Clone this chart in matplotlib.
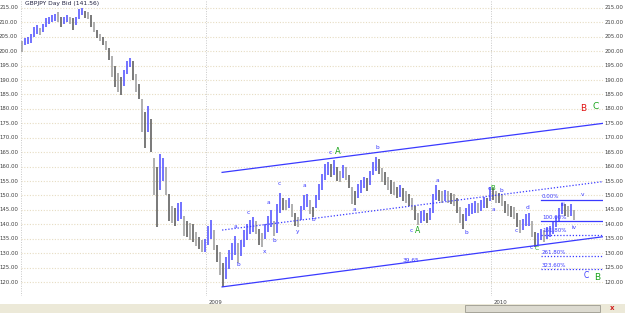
import matplotlib
matplotlib.use("Agg")
import matplotlib.pyplot as plt
import numpy as np
from matplotlib.patches import Rectangle

# ---------------- data ----------------
title = "GBPJPY Day Bid (141.56)"

bar_high = [203.5, 204.5, 205.0, 206.0, 208.5, 209.0, 208.0, 209.5, 211.5, 212.0,
            212.5, 213.0, 213.5, 212.0, 212.0, 212.5, 212.0, 211.5, 212.0, 214.5,
            215.0, 214.0, 213.5, 212.5, 210.0, 207.5, 206.0, 205.0, 203.5, 201.0,
            198.5, 195.0, 192.5, 191.0, 193.5, 196.5, 197.5, 196.5, 192.0, 188.5,
            183.5, 179.0, 181.0, 176.5, 163.0, 160.0, 164.5, 163.0, 160.0, 150.5,
            146.5, 145.5, 147.5, 147.7, 143.0, 141.0, 140.5, 140.0, 137.5, 135.5,
            134.5, 135.0, 139.5, 141.5, 138.0, 133.0, 130.5, 126.5, 128.5, 131.0,
            133.5, 136.0, 133.5, 134.5, 138.0, 140.0, 141.5, 142.5, 141.0, 138.5,
            137.0, 140.0, 143.0, 145.0, 141.0, 147.0, 151.0, 149.0, 148.5, 149.0,
            147.0, 144.0, 142.5, 146.5, 150.0, 150.5, 148.5, 146.0, 150.0, 154.0,
            157.5, 161.0, 161.5, 161.0, 162.3, 160.0, 158.5, 160.5, 160.0, 157.0,
            153.0, 151.5, 154.0, 155.5, 156.5, 156.0, 158.5, 161.5, 163.3, 162.5,
            159.5, 158.0, 156.5, 155.5, 154.5, 153.0, 153.5, 152.5, 151.5, 150.5,
            149.0, 146.5, 144.0, 144.5, 145.0, 144.0, 145.5, 150.5, 153.6, 152.0,
            151.5, 152.0, 151.5, 151.0, 150.5, 149.0, 146.0, 143.5, 145.5, 147.0,
            147.5, 148.0, 147.5, 148.5, 149.5, 149.0, 153.0, 152.5, 151.5, 151.0,
            150.5, 148.0, 147.0, 146.5, 146.0, 144.0, 141.5, 142.0, 143.5, 143.9,
            141.0, 137.5, 137.0, 138.5, 138.0, 139.0, 139.5, 141.0, 143.0, 145.5,
            147.5, 147.0, 146.5, 147.0, 145.0]
bar_low = [199.8, 202.0, 202.5, 203.0, 205.0, 206.0, 205.5, 206.5, 208.5, 209.5,
           210.0, 210.5, 210.0, 208.5, 209.5, 210.0, 209.5, 207.5, 209.0, 211.0,
           212.5, 211.5, 211.0, 208.5, 206.5, 204.5, 203.5, 202.0, 200.5, 197.0,
           191.0, 187.5, 186.0, 184.8, 188.0, 192.0, 194.5, 190.0, 186.0, 183.5,
           172.0, 166.5, 172.0, 165.0, 150.0, 139.0, 152.0, 155.0, 150.0, 141.0,
           140.5, 139.5, 141.0, 142.0, 136.0, 135.5, 134.5, 134.0, 132.5, 131.5,
           130.5, 130.5, 133.0, 135.0, 131.0, 127.0, 122.5, 118.3, 121.0, 124.5,
           127.5, 129.5, 126.5, 129.0, 132.0, 134.5, 136.5, 137.5, 136.5, 133.0,
           132.0, 135.0, 137.5, 139.0, 136.0, 137.0, 144.0, 145.0, 145.0, 145.5,
           142.5, 139.5, 139.0, 141.5, 145.0, 146.0, 143.5, 142.5, 145.5, 148.5,
           152.0, 155.5, 157.0, 156.5, 157.0, 155.0, 154.5, 156.0, 155.5, 152.5,
           147.0, 146.7, 149.0, 151.0, 152.5, 151.5, 153.5, 157.0, 158.5, 157.5,
           154.5, 153.5, 152.0, 150.5, 150.0, 149.0, 149.5, 148.0, 147.5, 146.5,
           145.0, 141.5, 139.8, 140.5, 141.0, 140.5, 141.5, 144.0, 148.5, 148.0,
           147.5, 148.0, 147.5, 147.0, 146.5, 144.0, 140.5, 138.5, 141.0, 143.0,
           143.5, 144.0, 144.0, 144.5, 145.5, 145.5, 148.0, 148.5, 147.5, 147.5,
           146.5, 144.0, 143.0, 142.5, 142.0, 139.0, 137.0, 138.0, 139.5, 139.5,
           135.5, 132.1, 133.0, 134.5, 134.0, 135.0, 135.5, 136.5, 139.0, 141.0,
           143.5, 143.0, 142.5, 143.0, 141.5]

year_labels = ["2009", "2010"]
year_pos = [61.3, 156.3]          # bar index where each year starts

# channel lines: (bar index, price) end points
chan_upper = [(66.7, 158.0), (193.7, 175.0)]
chan_lower = [(66.7, 118.3), (193.7, 135.7)]
chan_mid = [(66.7, 138.0), (193.7, 154.8)]
chan_label = "39.65"

fib_zero, fib_hundred = 148.4, 141.0
fib_ratios = [0.0, 1.0, 1.618, 2.618, 3.236]
fib_names = ["0.00%", "100.00%", "161.80%", "261.80%", "323.60%"]
fib_start = 173.0

# wave labels: (text, bar index, price, colour, size)
wave_labels = [
    ("a", 71.0, 139.4, "b", 4.2), ("c", 75.4, 144.0, "b", 4.2), ("b", 72.1, 125.9, "b", 4.2),
    ("a", 82.1, 147.5, "b", 4.2), ("c", 85.7, 154.2, "b", 4.2), ("x", 80.7, 130.5, "b", 4.2),
    ("b", 84.1, 134.3, "b", 4.2), ("y", 91.9, 137.4, "b", 4.2), ("a", 94.1, 153.6, "b", 4.2),
    ("b", 97.1, 141.5, "b", 4.2), ("c", 102.9, 164.8, "b", 4.2), ("A", 105.2, 165.3, "g", 6.0),
    ("a", 110.8, 145.0, "b", 4.2), ("b", 118.4, 166.7, "b", 4.2), ("c", 129.7, 138.0, "b", 4.2),
    ("A", 131.9, 137.7, "g", 5.5), ("a", 138.6, 155.1, "b", 4.2), ("b", 148.0, 137.2, "b", 4.2),
    ("c", 155.7, 152.5, "b", 4.2), ("B", 156.9, 152.7, "g", 5.0), ("b", 159.9, 151.8, "b", 4.2),
    ("a", 157.1, 145.3, "b", 4.2), ("d", 168.4, 145.8, "b", 4.2), ("c", 164.7, 137.8, "b", 4.2),
    ("c", 169.9, 131.9, "b", 4.2), ("C", 171.6, 131.6, "g", 4.2), ("iii", 180.2, 147.0, "b", 4.2),
    ("iv", 184.1, 139.0, "b", 4.2), ("v", 186.9, 150.2, "b", 4.2), ("C", 188.2, 122.1, "b", 5.5),
    ("B", 191.7, 121.7, "g", 6.5), ("B", 187.0, 180.3, "r", 6.5), ("C", 191.3, 181.0, "g", 6.5),
]
colour_map = {"b": "#3a3aff", "g": "#17a317", "r": "#e01010"}

# ---------------- figure ----------------
W, H = 625, 313
fig = plt.figure(figsize=(W / 100, H / 100), dpi=100)
fig.patch.set_facecolor("white")

ax_left, ax_right, ax_top, ax_bot = 21, 603, 0, 296
ax = fig.add_axes([ax_left / W, 1 - ax_bot / H, (ax_right - ax_left) / W, (ax_bot - ax_top) / H])
ax.set_facecolor("white")
for s in ax.spines.values():
    s.set_visible(False)

n = len(bar_high)
xs = np.arange(n)
ylo, yhi = 115.15, 217.75
xlo, xhi = -1 / 3, 193.67
ax.set_xlim(xlo, xhi)
ax.set_ylim(ylo, yhi)
ax.set_xticks([])
ax.set_yticks([])

# grid
levels = np.arange(120, 216, 5)
for lv in levels:
    ax.axhline(lv, color="#e6dcc2", lw=0.8, ls=(0, (1, 1.5)), zorder=0)
for xv in [xlo + 0.05, xhi - 0.05]:
    ax.axvline(xv, color="#c8c8c8", lw=0.7, ls=(0, (1, 1.5)), zorder=0)
for yp in year_pos:
    ax.axvline(yp, color="#c8c8c8", lw=0.7, ls=(0, (1, 1.5)), zorder=0)

# bars
hi = np.array(bar_high)
lo = np.array(bar_low)
mid = (hi + lo) / 2
cols = []
for i in range(n):
    if i > 0 and mid[i] > mid[i - 1]:
        cols.append("#4b4bff")
    elif i % 2:
        cols.append("#555555")
    else:
        cols.append("#9a9a9a")
ax.vlines(xs, lo, hi, colors=cols, lw=1.1, zorder=3)

# channel lines
blue = "#3a3aff"
for seg, ls in [(chan_upper, "-"), (chan_lower, "-"), (chan_mid, (0, (1, 1.5)))]:
    ax.plot([seg[0][0], seg[1][0]], [seg[0][1], seg[1][1]], color=blue, lw=0.9, ls=ls, zorder=4)
ax.text(129.7, 127.6, chan_label, color=blue, fontsize=4.2, ha="center", va="center", zorder=5)

# fib levels
rng = fib_zero - fib_hundred
for r, name in zip(fib_ratios, fib_names):
    lv = fib_zero - r * rng
    ls = "-" if r in (0.0, 1.0) else (0, (1, 1.5))
    ax.plot([fib_start, xhi], [lv, lv], color=blue, lw=0.9, ls=ls, zorder=4)
    ax.text(fib_start + 0.3, lv + 0.4, name, color=blue, fontsize=4.0, ha="left", va="bottom", zorder=5)

# wave labels
for t, x, y, c, fs in wave_labels:
    ax.text(x, y, t, color=colour_map[c], fontsize=fs, ha="center", va="center", zorder=6)

# title
ax.text(1.0, 216.4, title, color="#202040", fontsize=4.3, ha="left", va="center", zorder=6)

# y tick labels on both sides
for lv in levels:
    ax.text(-0.005, (lv - ylo) / (yhi - ylo), f"{lv:.2f}", transform=ax.transAxes,
            fontsize=3.9, color="#404040", ha="right", va="center")
    ax.text(1.003, (lv - ylo) / (yhi - ylo), f"{lv:.2f}", transform=ax.transAxes,
            fontsize=3.9, color="#404040", ha="left", va="center")

# year labels
for lab, yp in zip(year_labels, year_pos):
    ax.text(yp + 0.8, -0.012, lab, transform=ax.get_xaxis_transform(),
            fontsize=3.9, color="#404040", ha="left", va="top")

# bottom scroll bar strip
fig.patches.append(Rectangle((0, 0), 1, 9 / H, transform=fig.transFigure,
                             facecolor="#ece9d8", edgecolor="none"))
fig.patches.append(Rectangle((465 / W, 1 / H), 135 / W, 7 / H, transform=fig.transFigure,
                             facecolor="#dcdad0", edgecolor="#9c9a90", lw=0.6))
fig.text(612 / W, 4.5 / H, "x", color="#d02020", fontsize=5, ha="center", va="center", weight="bold")

fig.savefig("out.png", dpi=100)
